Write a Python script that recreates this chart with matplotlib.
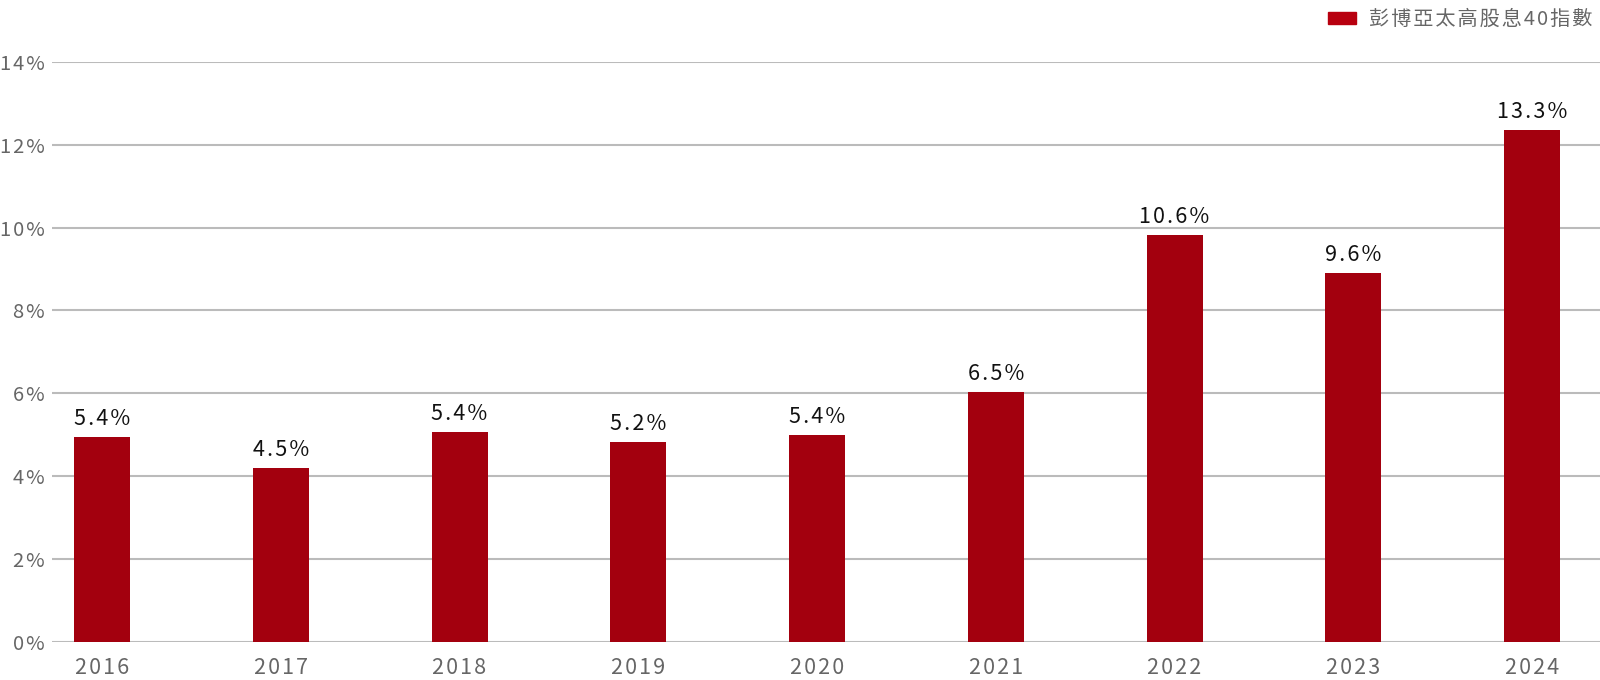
import matplotlib.pyplot as plt
from matplotlib.patches import Patch

plt.rcParams['font.family'] = ['Noto Sans CJK TC', 'DejaVu Sans']

years = ["2016", "2017", "2018", "2019", "2020", "2021", "2022", "2023", "2024"]
# bar heights as drawn in the source chart (%)
heights = [4.94, 4.20, 5.07, 4.83, 5.00, 6.04, 9.82, 8.91, 12.36]
# labels printed above the bars
labels = ["5.4%", "4.5%", "5.4%", "5.2%", "5.4%", "6.5%", "10.6%", "9.6%", "13.3%"]
series_name = "彭博亞太高股息40指數"

bar_color = "#A3000E"
grey = "#666666"


def spaced(s):
    # the source uses slight letter spacing
    return "\u200a".join(s)


fig = plt.figure(figsize=(16, 6.8), dpi=100)
ax = fig.add_axes([0.0325, 0.0563, 0.9675, 0.8525])

x = list(range(len(years)))
bars = ax.bar(x, heights, width=0.313, color=bar_color, zorder=3)

for b, lab in zip(bars, labels):
    ax.annotate(spaced(lab), (b.get_x() + b.get_width() / 2, b.get_height()),
                xytext=(0, 5), textcoords="offset points",
                ha="center", va="bottom", fontsize=15.5, color="#111111",
                annotation_clip=False)

ax.set_xlim(-0.28, 8.38)
ax.set_ylim(0, 14)
ax.set_yticks(range(0, 15, 2))
ax.set_yticklabels([spaced(f"{v}%") for v in range(0, 15, 2)])
ax.set_xticks(x)
ax.set_xticklabels([spaced(y) for y in years])

ax.grid(axis="y", color="#bbbbbb", linewidth=1.5, zorder=0)
ax.set_axisbelow(True)
for s in ax.spines.values():
    s.set_visible(False)

ax.tick_params(axis="y", length=0, pad=5, labelsize=14.5, labelcolor=grey)
ax.tick_params(axis="x", length=0, pad=11, labelsize=15.5, labelcolor=grey)

ax.legend(handles=[Patch(color="#B8000F", label=spaced(series_name))],
          loc="upper right", bbox_to_anchor=(1.0, 1.105), frameon=False,
          fontsize=14.5, labelcolor=grey, handlelength=1.4, handleheight=0.5,
          handletextpad=0.6, borderaxespad=0)

fig.savefig("out.png", dpi=100)
